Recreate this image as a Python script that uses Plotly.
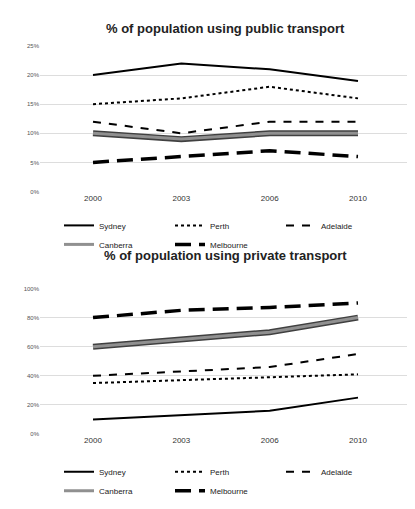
import plotly.graph_objects as go
from plotly.subplots import make_subplots

years = ["2000", "2003", "2006", "2010"]
cities = ["Sydney", "Perth", "Adelaide", "Canberra", "Melbourne"]
public = {
    "Sydney": [20, 22, 21, 19],
    "Perth": [15, 16, 18, 16],
    "Adelaide": [12, 10, 12, 12],
    "Canberra": [10, 9, 10, 10],
    "Melbourne": [5, 6, 7, 6],
}
private = {
    "Sydney": [10, 13, 16, 25],
    "Perth": [35, 37, 39, 41],
    "Adelaide": [40, 43, 46, 55],
    "Canberra": [60, 65, 70, 80],
    "Melbourne": [80, 85, 87, 90],
}

styles = {
    "Sydney": dict(color="black", width=2, dash="solid"),
    "Perth": dict(color="black", width=2, dash="dot"),
    "Adelaide": dict(color="black", width=2, dash="8px,8px"),
    "Canberra": dict(color="#909090", width=3, dash="solid"),
    "Melbourne": dict(color="black", width=3.5, dash="16px,8px"),
}

fig = make_subplots(rows=2, cols=1, vertical_spacing=0.25)

for row, data, leg in [(1, public, "legend"), (2, private, "legend2")]:
    for c in cities:
        if c == "Canberra":
            fig.add_trace(go.Scatter(x=years, y=data[c], mode="lines",
                                     line=dict(color="#404040", width=6),
                                     showlegend=False, hoverinfo="skip"),
                          row=row, col=1)
        fig.add_trace(go.Scatter(x=years, y=data[c], mode="lines", name=c,
                                 line=styles[c], legend=leg),
                      row=row, col=1)

axis_font = dict(family="Liberation Sans", size=8, color="#333")
fig.update_xaxes(type="category", range=[-0.6, 3.6], showline=False, showgrid=False,
                 tickfont=axis_font)
fig.update_yaxes(showline=False, gridcolor="#dddddd", zeroline=False,
                 ticksuffix="%", tickfont=dict(family="Liberation Sans", size=6, color="#555"))
fig.update_yaxes(range=[0, 25], dtick=5, row=1, col=1)
fig.update_yaxes(range=[0, 100], dtick=20, row=2, col=1)

leg_common = dict(orientation="h", xanchor="center", x=0.5, yanchor="top",
                  font=dict(family="Liberation Sans", size=8, color="#222"),
                  itemwidth=30, entrywidth=66, bgcolor="rgba(0,0,0,0)",
                  tracegroupgap=0)
fig.update_layout(
    width=415, height=509,
    margin=dict(l=32, r=12, t=38, b=48),
    plot_bgcolor="white", paper_bgcolor="white",
    legend=dict(y=0.575, **leg_common),
    legend2=dict(y=-0.06, **leg_common),
    annotations=[
        dict(text="<b>% of population using public transport</b>", x=0.5, y=1.07,
             xref="paper", yref="paper", showarrow=False,
             font=dict(family="Liberation Sans", size=13, color="#222")),
        dict(text="<b>% of population using private transport</b>", x=0.5, y=0.46,
             xref="paper", yref="paper", showarrow=False,
             font=dict(family="Liberation Sans", size=13, color="#222")),
    ],
)

fig.write_html("out.html")
